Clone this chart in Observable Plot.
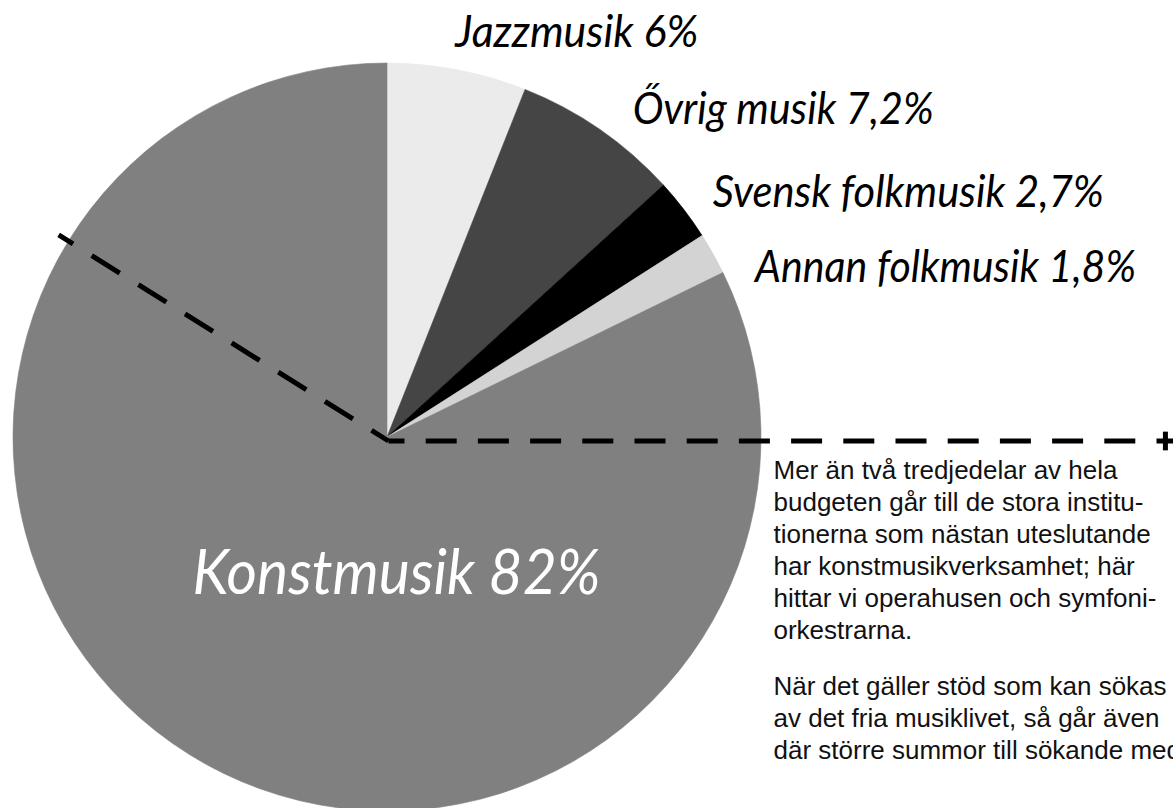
<!DOCTYPE html>
<html>
<head>
<meta charset="utf-8">
<script src="https://cdn.jsdelivr.net/npm/d3@7"></script>
<script src="https://cdn.jsdelivr.net/npm/@observablehq/plot@0.6"></script>
<style>
  html, body { margin: 0; padding: 0; background: #ffffff; }
  #chart svg { display: block; overflow: hidden; }
</style>
</head>
<body>
<div id="chart"></div>
<script>
// ---------- data ----------
const categories  = ["Jazzmusik", "Ővrig musik", "Svensk folkmusik", "Annan folkmusik", "Konstmusik"];
const shares      = [6, 7.2, 2.7, 1.8, 82];
const shareLabels = ["6%", "7,2%", "2,7%", "1,8%", "82%"];
const sliceColors = ["#ebebeb", "#454545", "#000000", "#d3d3d3", "#808080"];
const dividerAngles = [302, 90];      // degrees clockwise from 12 o'clock
const dividerReach  = [1.04, 2.08];   // in pie radii
const noteParagraph1 = [
  "Mer än två tredjedelar av hela",
  "budgeten går till de stora institu-",
  "tionerna som nästan uteslutande",
  "har konstmusikverksamhet; här",
  "hittar vi operahusen och symfoni-",
  "orkestrarna."
];
const noteParagraph2 = [
  "När det gäller stöd som kan sökas",
  "av det fria musiklivet, så går även",
  "där större summor till sökande med"
];

// ---------- layout / style ----------
const W = 1173, H = 808;
const pxPerUnit = 374, cxPx = 387, cyPx = 437;
const labelDx = [-2, 33, 29, 42, 9];
const labelDy = [-23, -5, -3, 28, 156];
const labelWidths = [243, 301, 391, 381, 408];

const slices = categories.map((c, i) => ({
  category: c, value: shares[i], color: sliceColors[i], label: `${c} ${shareLabels[i]}`
}));
const arcs = d3.pie().sort(null).value(d => d.value)(slices);

const polar = (deg, r) => { const a = deg * Math.PI / 180; return [r * Math.sin(a), r * Math.cos(a)]; };

const labelData = arcs.map((a, i) => {
  const mid = (a.startAngle + a.endAngle) / 2 * 180 / Math.PI;
  const inner = i === arcs.length - 1;
  const [x, y] = inner ? [0, 0] : polar(mid, 1);
  return { x, y, text: a.data.label, i, inner };
});

const diag = [polar(dividerAngles[0], dividerReach[0]), [0, 0]].map(([x, y]) => ({ x, y }));
const xMax = (W - cxPx) / pxPerUnit;
const horiz = [[0, 0], [xMax + 0.05, 0]].map(([x, y]) => ({ x, y }));
const tickX = polar(dividerAngles[1], dividerReach[1])[0];

function pieMark(index, scales) {
  const cx = scales.x(0), cy = scales.y(0), r = scales.x(1) - scales.x(0);
  const arc = d3.arc().innerRadius(0).outerRadius(r);
  const g = d3.create("svg:g").attr("transform", `translate(${cx},${cy})`);
  g.selectAll("path").data(arcs).join("path")
    .attr("d", arc)
    .attr("fill", d => d.data.color)
    .attr("stroke", d => d.data.color)
    .attr("stroke-width", 0.6);
  return g.node();
}

const labelFont = "Lato, 'Open Sans', sans-serif";
const noteFont = "'Liberation Sans', Arial, Helvetica, sans-serif";

const chart = Plot.plot({
  width: W,
  height: H,
  margin: 0,
  style: { background: "#ffffff" },
  x: { domain: [-cxPx / pxPerUnit, xMax], axis: null },
  y: { domain: [(cyPx - H) / pxPerUnit, cyPx / pxPerUnit], axis: null },
  marks: [
    pieMark,
    Plot.line(diag, {
      x: "x", y: "y", stroke: "black", strokeWidth: 5, dx: 1, dy: 3.5,
      strokeDasharray: "33,22", strokeDashoffset: 16, strokeLinecap: "butt"
    }),
    Plot.line(horiz, {
      x: "x", y: "y", stroke: "black", strokeWidth: 5, dx: 1, dy: 3.5,
      strokeDasharray: "31,21.2", strokeDashoffset: 15, strokeLinecap: "butt"
    }),
    Plot.link([{ x: tickX }], {
      x1: "x", x2: "x", y1: () => -0.025, y2: () => 0.025,
      stroke: "black", strokeWidth: 5, dy: 3.5
    }),
    Plot.text(labelData.filter(d => !d.inner), {
      x: "x", y: "y", text: "text",
      dx: d => 0, dy: d => 0,
      textAnchor: "start", lineAnchor: "bottom",
      fontSize: 44, fontStyle: "italic", fontFamily: labelFont, fill: "black"
    }),
    Plot.text(labelData.filter(d => d.inner), {
      x: "x", y: "y", text: "text",
      textAnchor: "middle", lineAnchor: "bottom",
      fontSize: 63, fontStyle: "italic", fontFamily: labelFont, fill: "white"
    }),
    Plot.text([noteParagraph1.join("\n")], {
      x: () => 1, y: () => 0, text: d => d, frameAnchor: "left",
      dx: 12, dy: 18.5, textAnchor: "start", lineAnchor: "top",
      lineHeight: 32 / 26, fontSize: 26, fontFamily: noteFont, fill: "#111"
    }),
    Plot.text([noteParagraph2.join("\n")], {
      x: () => 1, y: () => 0, text: d => d,
      dx: 12, dy: 234.5, textAnchor: "start", lineAnchor: "top",
      lineHeight: 32 / 26, fontSize: 26, fontFamily: noteFont, fill: "#111"
    })
  ]
});

// per-label offsets and widths (styles)
d3.select(chart).selectAll("text").each(function () {
  const t = this.textContent;
  const i = slices.findIndex(s => s.label === t);
  if (i < 0) return;
  const el = d3.select(this);
  const tr = el.attr("transform") || "";
  el.attr("transform", `${tr} translate(${labelDx[i]},${labelDy[i]})`);
  el.attr("textLength", labelWidths[i]).attr("lengthAdjust", "spacingAndGlyphs");
});

document.getElementById("chart").appendChild(chart);
</script>
</body>
</html>
